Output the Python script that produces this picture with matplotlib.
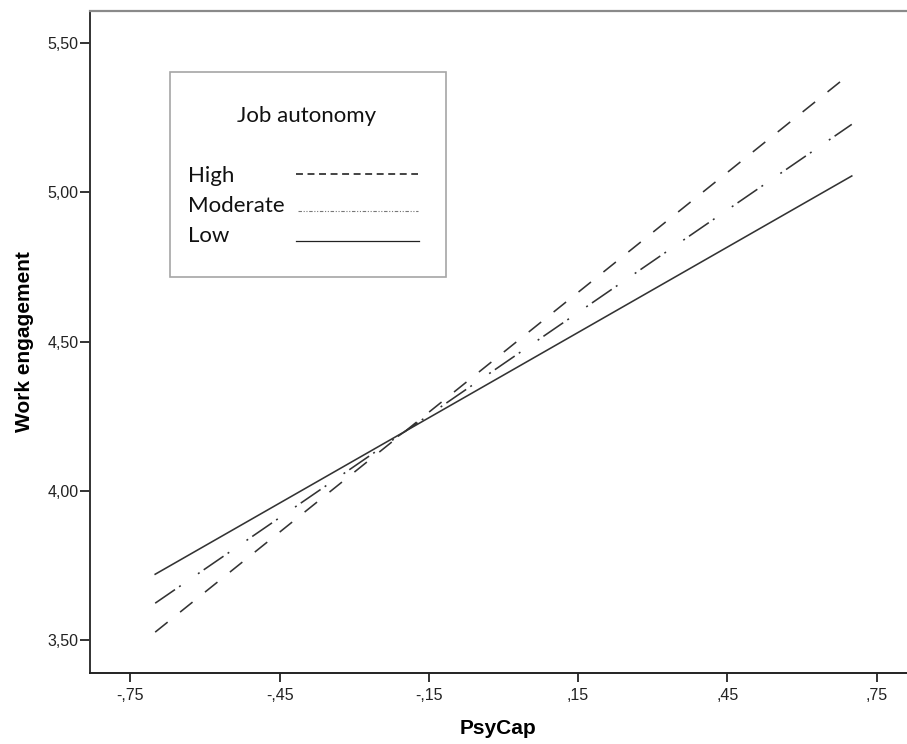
import matplotlib
matplotlib.use("Agg")
from matplotlib import pyplot as plt
from matplotlib.lines import Line2D
from matplotlib.patches import Rectangle

plt.rcParams['font.family'] = ['Liberation Sans', 'DejaVu Sans']
plt.rcParams['lines.scale_dashes'] = False

# simple slopes, PsyCap at -1 SD / +1 SD
psycap = [-0.70, 0.70]
high = [3.526, 5.402]
moderate = [3.623, 5.228]
low = [3.720, 5.055]

xticks = [-0.75, -0.45, -0.15, 0.15, 0.45, 0.75]
yticks = [3.5, 4.0, 4.5, 5.0, 5.5]
legend_title = "Job autonomy"
legend_labels = ["High", "Moderate", "Low"]

W, H = 907, 744
fig = plt.figure(figsize=(W / 100, H / 100), dpi=100)
ax = fig.add_axes([89.5 / W, 71 / H, (907 - 89.5) / W, (673 - 11) / H])

line_col = '#333333'
ax.plot(psycap, high, color=line_col, lw=1.15, linestyle=(0, (11.5, 11.5)))
ax.plot(psycap, moderate, color=line_col, lw=1.15,
        linestyle=(0, (17.3, 3.6, 1.4, 15.1, 1.4, 3.6)))
ax.plot(psycap, low, color=line_col, lw=1.15, linestyle='-')

ax.set_xlim(-0.832, 0.811)
ax.set_ylim(3.389, 5.608)
ax.set_xticks(xticks)
ax.set_yticks(yticks)
ax.set_xticklabels([('%.2f' % v).replace('0.', '.').replace('.', ',') for v in xticks])
ax.set_yticklabels([('%.2f' % v).replace('.', ',') for v in yticks])

ax.spines['right'].set_visible(False)
ax.spines['left'].set_color('#333333')
ax.spines['left'].set_linewidth(1.4)
ax.spines['bottom'].set_color('#222222')
ax.spines['bottom'].set_linewidth(1.4)
ax.spines['top'].set_color('#8a8a8a')
ax.spines['top'].set_linewidth(1.6)

ax.tick_params(axis='y', length=7.2, width=1.4, pad=0.5, color='#333333',
               labelsize=11.5, labelcolor='#222222')
ax.tick_params(axis='x', length=6.5, width=1.4, pad=4, color='#333333',
               labelsize=11.5, labelcolor='#222222')

ax.set_xlabel("PsyCap", fontsize=15, fontweight='bold', labelpad=12)
ax.set_ylabel("Work engagement", fontsize=15, fontweight='bold', labelpad=10)

# legend box (drawn by hand, pixel positions converted to figure fraction)
def fx(px):
    return px / W

def fy(py):
    return 1 - py / H

fig.add_artist(Rectangle((fx(170), fy(277)), fx(446) - fx(170), fy(72) - fy(277),
                         transform=fig.transFigure, fill=False,
                         edgecolor='#a6a6a6', lw=1.2))
leg_font = ['Lato', 'DejaVu Sans']
fig.text(fx(307), fy(116), legend_title, ha='center', va='center',
         fontsize=16, family=leg_font, color='#111111')
rows = [176.5, 206, 236]
for lab, yy in zip(legend_labels, rows):
    fig.text(fx(188), fy(yy), lab, ha='left', va='center', fontsize=16,
             family=leg_font, color='#111111')
fig.add_artist(Line2D([fx(296), fx(418)], [fy(174), fy(174)],
                      transform=fig.transFigure, color='#111111', lw=1.1,
                      linestyle=(0, (5, 3.3))))
fig.add_artist(Line2D([fx(298), fx(418)], [fy(211), fy(211)],
                      transform=fig.transFigure, color='#777777', lw=0.8,
                      linestyle=(0, (2.5, 1.2, 0.8, 1.2, 0.8, 1.2))))
fig.add_artist(Line2D([fx(296), fx(419)], [fy(241), fy(241)],
                      transform=fig.transFigure, color='#222222', lw=0.9))

fig.savefig("out.png", dpi=100)
